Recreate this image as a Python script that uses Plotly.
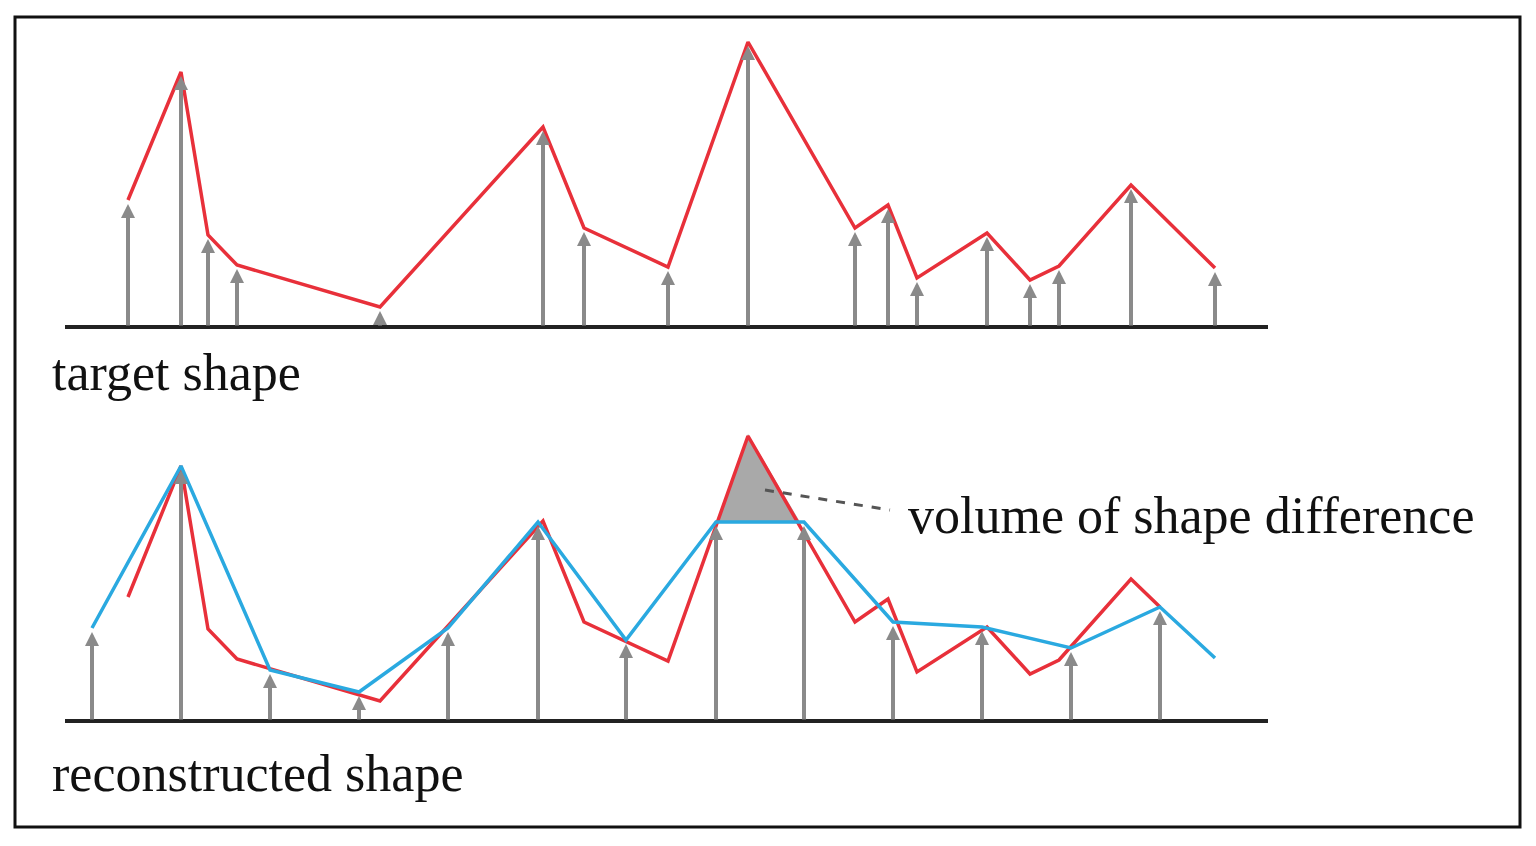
import plotly.graph_objects as go

# target shape (top panel), pixel-like units
tx = [128,181,208,237,380,543,584,668,748,855,888,917,987,1030,1059,1131,1215]
ty = [200,72,235,265,307,127,228,267,42,228,205,278,233,280,266,185,268]
top_base = 327
# reconstructed (bottom panel)
OFF = 394
bot_base = 721
bx = [92,181,270,359,448,538,626,716,804,893,982,1071,1160,1215]
by = [628,466,670,692,628,522,640,522,522,622,627,648,607,658]
arrow_b = 13  # number of sample arrows in bottom (last point has none)

RED = "#e8303a"; BLUE = "#2aa9e0"; GRAY = "#8a8a8a"
fig = go.Figure()

fig.add_trace(go.Scatter(x=[718,748,800,718], y=[522,ty[8]+OFF-2,522,522], fill="toself",
    fillcolor="#a9a9a9", line=dict(color="rgba(0,0,0,0)"), mode="lines", hoverinfo="skip"))

annos = []
def arrow(x, tip, base):
    annos.append(dict(x=x, y=tip, ax=x, ay=base, xref="x", yref="y", axref="x", ayref="y",
        showarrow=True, arrowhead=2, arrowsize=0.7, arrowwidth=4, arrowcolor=GRAY, text=""))

for x, y in zip(tx, ty):
    arrow(x, y+4, top_base)
for x, y in zip(bx[:arrow_b], by[:arrow_b]):
    arrow(x, y+4, bot_base)

for b in (top_base, bot_base):
    fig.add_trace(go.Scatter(x=[65,1268], y=[b,b], mode="lines", line=dict(color="#222", width=4), hoverinfo="skip"))

fig.add_trace(go.Scatter(x=tx, y=ty, mode="lines", line=dict(color=RED, width=3.5)))
rbx = tx[:-1] + [bx[12]]
rby = [v+OFF+(3 if i==0 else 0) for i, v in enumerate(ty[:-1])] + [by[12]]
fig.add_trace(go.Scatter(x=rbx, y=rby, mode="lines", line=dict(color=RED, width=3.5)))
fig.add_trace(go.Scatter(x=bx, y=by, mode="lines", line=dict(color=BLUE, width=3.5)))
fig.add_trace(go.Scatter(x=[765,890], y=[490,510], mode="lines", line=dict(color="#555", width=3, dash="dash")))

font = dict(family="Liberation Serif", size=52, color="#111")
annos += [
    dict(x=50, y=372, text="target shape", showarrow=False, xanchor="left", font=font, xref="x", yref="y"),
    dict(x=50, y=773, text="reconstructed shape", showarrow=False, xanchor="left", font=font, xref="x", yref="y"),
    dict(x=906, y=515, text="volume of shape difference", showarrow=False, xanchor="left", font=font, xref="x", yref="y"),
]

fig.update_layout(width=1536, height=846, margin=dict(l=0, r=0, t=0, b=0),
    plot_bgcolor="white", paper_bgcolor="white", showlegend=False, annotations=annos,
    shapes=[dict(type="rect", x0=15, y0=17, x1=1520, y1=827, xref="x", yref="y", line=dict(color="#111", width=3))],
    xaxis=dict(range=[8,1544], visible=False),
    yaxis=dict(range=[854,8], visible=False))
fig.write_html("out.html")
